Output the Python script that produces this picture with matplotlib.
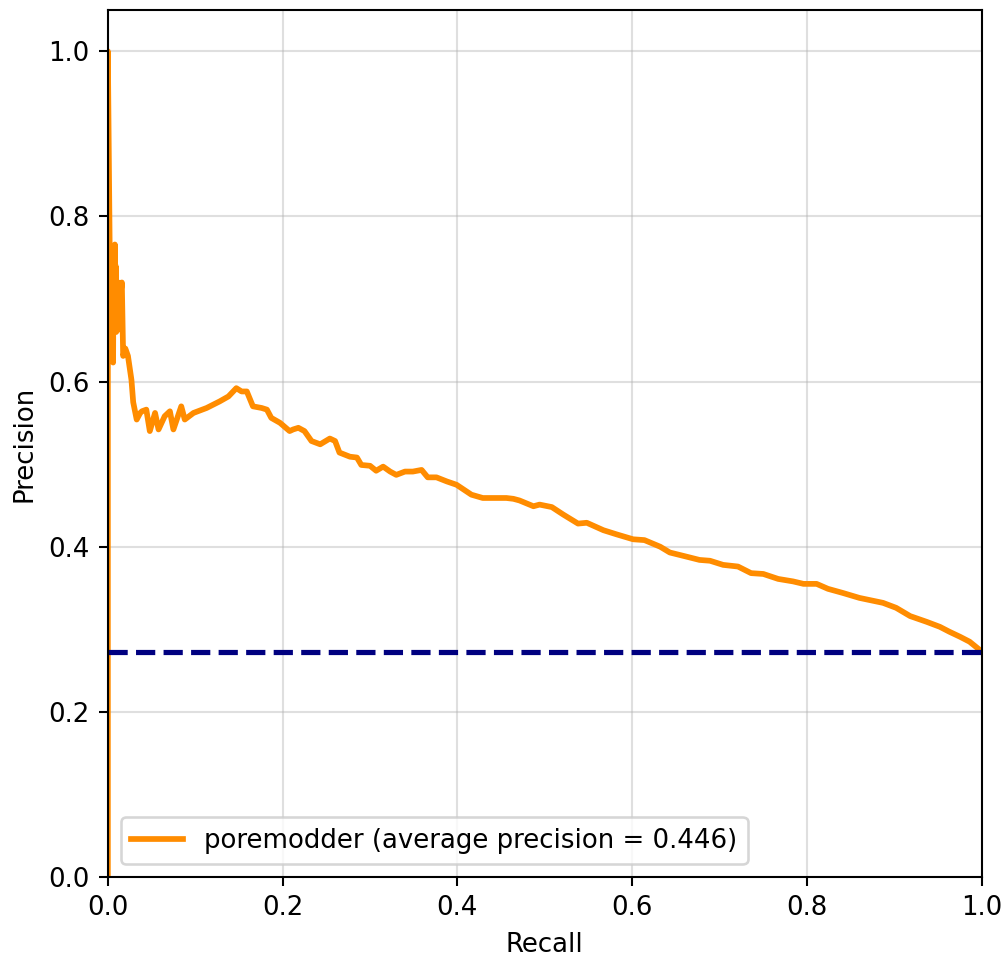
import numpy as np
import matplotlib
matplotlib.use("Agg")
import matplotlib.pyplot as plt

# precision / recall curve points
recall = [0.0, 0.0, 0.003, 0.004, 0.005, 0.006, 0.0065, 0.007, 0.0075,
          0.008, 0.0085, 0.009, 0.0095, 0.010, 0.011, 0.012, 0.013, 0.0137,
          0.015, 0.016, 0.0175, 0.020, 0.023, 0.027, 0.029, 0.033, 0.037,
          0.039, 0.044, 0.048, 0.054, 0.058, 0.065, 0.071, 0.075, 0.084,
          0.088, 0.098, 0.113, 0.128, 0.138, 0.147, 0.153, 0.159, 0.166,
          0.176, 0.182, 0.187, 0.197, 0.208, 0.212, 0.218, 0.225, 0.233,
          0.243, 0.254, 0.260, 0.265, 0.277, 0.285, 0.290, 0.300, 0.307,
          0.315, 0.323, 0.330, 0.340, 0.349, 0.359, 0.366, 0.376, 0.388,
          0.399, 0.416, 0.429, 0.445, 0.456, 0.464, 0.471, 0.487, 0.494,
          0.508, 0.521, 0.538, 0.548, 0.567, 0.582, 0.601, 0.614, 0.632,
          0.643, 0.662, 0.677, 0.689, 0.704, 0.721, 0.736, 0.750, 0.767,
          0.784, 0.796, 0.811, 0.824, 0.841, 0.860, 0.887, 0.902, 0.918,
          0.937, 0.952, 0.963, 0.975, 0.986, 1.0]
precision = [0.0, 1.0, 0.66, 0.64, 0.72, 0.623, 0.74, 0.66, 0.75,
             0.766, 0.68, 0.74, 0.66, 0.667, 0.71, 0.72, 0.67, 0.663,
             0.71, 0.720, 0.631, 0.64, 0.631, 0.602, 0.575, 0.554, 0.562,
             0.564, 0.566, 0.540, 0.562, 0.542, 0.558, 0.564, 0.542, 0.570,
             0.554, 0.562, 0.568, 0.576, 0.582, 0.592, 0.588, 0.588, 0.570,
             0.568, 0.566, 0.556, 0.550, 0.540, 0.542, 0.544, 0.540, 0.528,
             0.524, 0.531, 0.528, 0.514, 0.509, 0.508, 0.499, 0.498, 0.492,
             0.497, 0.491, 0.487, 0.491, 0.491, 0.493, 0.484, 0.484, 0.479,
             0.475, 0.463, 0.459, 0.459, 0.459, 0.458, 0.456, 0.449, 0.451,
             0.448, 0.439, 0.428, 0.429, 0.420, 0.415, 0.409, 0.408, 0.400,
             0.393, 0.388, 0.384, 0.383, 0.378, 0.376, 0.368, 0.367, 0.361,
             0.358, 0.355, 0.355, 0.349, 0.344, 0.338, 0.332, 0.326, 0.316,
             0.309, 0.303, 0.297, 0.291, 0.285, 0.273]

baseline = 0.273
avg_precision = 0.446
model_name = "poremodder"

DPI = 187
fig = plt.figure(figsize=(1008 / DPI, 956 / DPI), dpi=DPI)
ax = fig.add_axes([0.107, 0.0826, 0.867, 0.907])

ax.plot(recall, precision, color="darkorange", lw=2.2,
        label=f"{model_name} (average precision = {avg_precision:.3f})")
ax.plot([0, 1], [baseline, baseline], color="navy", lw=2, linestyle="--")

ax.set_xlim(0.0, 1.0)
ax.set_ylim(0.0, 1.05)
ax.set_xlabel("Recall")
ax.set_ylabel("Precision")
ax.grid(alpha=0.4)
ax.legend(loc="lower left")

plt.savefig("out.png", dpi=DPI)
